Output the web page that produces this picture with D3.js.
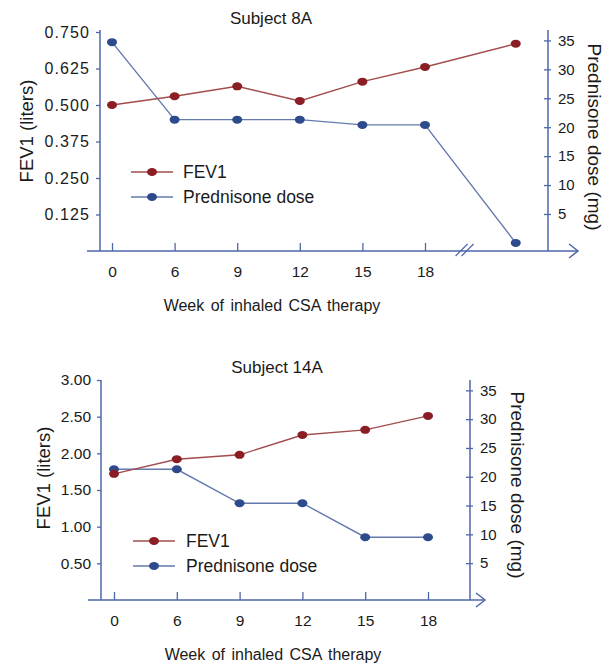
<!DOCTYPE html>
<html>
<head>
<meta charset="utf-8">
<script src="https://cdn.jsdelivr.net/npm/d3@7"></script>
<style>
  body { margin: 0; background: #fff; }
  svg { display: block; font-family: "Liberation Sans", Arial, sans-serif; }
</style>
</head>
<body>
<svg id="chart" width="610" height="663"></svg>
<script>
// data
const weekLabels = ["0", "6", "9", "12", "15", "18"];
const seriesNames = ["FEV1", "Prednisone dose"];

// subject 8A: last value is the point after the axis break
const fev1_8A = [0.500, 0.530, 0.564, 0.514, 0.580, 0.630, 0.710];
const dose_8A = [34.7, 21.3, 21.3, 21.3, 20.4, 20.4, 0];

// subject 14A
const fev1_14A = [1.72, 1.92, 1.98, 2.25, 2.32, 2.51];
const dose_14A = [21.3, 21.3, 15.4, 15.4, 9.5, 9.5];

const fevTicks_8A = [0.125, 0.250, 0.375, 0.500, 0.625, 0.750];
const fevTicks_14A = [0.50, 1.00, 1.50, 2.00, 2.50, 3.00];
const doseTicks = [5, 10, 15, 20, 25, 30, 35];

const axisColor = "#4f67a8";
const red = "#8b1e24", redLine = "#a24c4c";
const blue = "#2d4a8c", blueLine = "#6479ad";
const textColor = "#1a1a1a";

const svg = d3.select("#chart");

function panel(o) {
  const g = svg.append("g");

  const x = d3.scalePoint().domain(weekLabels).range(o.xRange);
  const xPos = i => i < weekLabels.length ? x(weekLabels[i]) : x("18") + x.step() * 1.45;
  const yL = d3.scaleLinear().domain(o.fevDomain).range([o.base, o.fevTop]);
  const yR = d3.scaleLinear().domain([-1.4, 36.8]).range([o.base, o.top]);

  // title
  g.append("text").attr("x", o.title[0]).attr("y", o.title[1])
    .attr("text-anchor", "middle").attr("font-size", 17).attr("fill", textColor)
    .text(o.name);

  // x axis line + arrow
  g.append("line").attr("x1", o.xStart).attr("x2", o.xEnd)
    .attr("y1", o.base).attr("y2", o.base)
    .attr("stroke", axisColor).attr("stroke-width", 1.5);
  g.append("path")
    .attr("d", `M${o.xEnd - 9},${o.base - 7}L${o.xEnd},${o.base}L${o.xEnd - 9},${o.base + 7}`)
    .attr("fill", "none").attr("stroke", axisColor).attr("stroke-width", 1.5);

  const xa = g.append("g").attr("transform", `translate(0,${o.base})`)
    .call(d3.axisBottom(x).tickSize(-8).tickPadding(15));
  xa.select(".domain").remove();
  xa.selectAll("line").attr("stroke", axisColor).attr("stroke-width", 1.3);
  xa.selectAll("text").attr("font-size", 15.5).attr("fill", textColor)
    .attr("font-family", "Liberation Sans, Arial, sans-serif");

  // left axis
  g.append("line").attr("x1", o.left).attr("x2", o.left)
    .attr("y1", o.top).attr("y2", o.base)
    .attr("stroke", axisColor).attr("stroke-width", 1.5);
  const la = g.append("g").attr("transform", `translate(${o.left},0)`)
    .call(d3.axisLeft(yL).tickValues(o.fevTicks).tickFormat(d3.format(o.fmt))
      .tickSize(4).tickPadding(6));
  la.select(".domain").remove();
  la.selectAll("line").attr("stroke", axisColor).attr("stroke-width", 1.3);
  la.selectAll("text").attr("font-size", o.tickFont).attr("fill", textColor)
    .attr("letter-spacing", o.spacing)
    .attr("font-family", "Liberation Sans, Arial, sans-serif");

  // right axis
  g.append("line").attr("x1", o.right).attr("x2", o.right)
    .attr("y1", o.top).attr("y2", o.base)
    .attr("stroke", axisColor).attr("stroke-width", 1.5);
  const ra = g.append("g").attr("transform", `translate(${o.right},0)`)
    .call(d3.axisRight(yR).tickValues(doseTicks).tickSize(3).tickPadding(7));
  ra.select(".domain").remove();
  ra.selectAll("line").attr("x1", -4).attr("stroke", axisColor).attr("stroke-width", 1.3);
  ra.selectAll("text").attr("font-size", 15).attr("fill", textColor)
    .attr("font-family", "Liberation Sans, Arial, sans-serif");

  // axis titles
  g.append("text")
    .attr("transform", `translate(${o.leftLabel[0]},${o.leftLabel[1]}) rotate(-90)`)
    .attr("text-anchor", "middle").attr("dominant-baseline", "central")
    .attr("font-size", 18.5).attr("fill", textColor).text("FEV1 (liters)");
  g.append("text")
    .attr("transform", `translate(${o.rightLabel[0]},${o.rightLabel[1]}) rotate(90)`)
    .attr("text-anchor", "middle").attr("dominant-baseline", "central")
    .attr("font-size", 19).attr("fill", textColor).text("Prednisone dose (mg)");
  g.append("text").attr("x", o.xLabel[0]).attr("y", o.xLabel[1])
    .attr("text-anchor", "middle").attr("font-size", 16).attr("fill", textColor)
    .attr("word-spacing", 2).text("Week of inhaled CSA therapy");

  // break mark
  if (o.hasBreak) {
    const bx = x("18") + x.step() * 0.6;
    [0, 6].forEach(dx => {
      g.append("line")
        .attr("x1", bx - 7 + dx).attr("y1", o.base + 5)
        .attr("x2", bx + 5 + dx).attr("y2", o.base - 7)
        .attr("stroke", axisColor).attr("stroke-width", 1.2);
    });
  }

  // series
  const series = [
    { vals: o.dose, y: yR, c: blue, lc: blueLine },
    { vals: o.fev, y: yL, c: red, lc: redLine }
  ];
  series.forEach(s => {
    const line = d3.line().x((d, i) => xPos(i)).y(d => s.y(d));
    g.append("path").datum(s.vals).attr("d", line)
      .attr("fill", "none").attr("stroke", s.lc).attr("stroke-width", 1.4);
    g.selectAll(null).data(s.vals).join("ellipse")
      .attr("cx", (d, i) => xPos(i)).attr("cy", d => s.y(d))
      .attr("rx", 5).attr("ry", 4).attr("fill", s.c);
  });

  // legend
  const leg = g.append("g");
  [[red, redLine], [blue, blueLine]].forEach((c, i) => {
    const ly = o.legend.y[i];
    leg.append("line").attr("x1", o.legend.x[0]).attr("x2", o.legend.x[1])
      .attr("y1", ly).attr("y2", ly).attr("stroke", c[1]).attr("stroke-width", 1.4);
    leg.append("ellipse").attr("cx", (o.legend.x[0] + o.legend.x[1]) / 2)
      .attr("cy", ly).attr("rx", 5).attr("ry", 4).attr("fill", c[0]);
    leg.append("text").attr("x", o.legend.tx).attr("y", ly)
      .attr("dominant-baseline", "central").attr("font-size", 17.5)
      .attr("fill", textColor).text(seriesNames[i]);
  });
}

panel({
  name: "Subject 8A", fev: fev1_8A, dose: dose_8A,
  fevDomain: [0, 0.75], fevTicks: fevTicks_8A, fmt: ".3f", spacing: 1.1, tickFont: 16,
  left: 100, right: 548, base: 251, top: 30, fevTop: 32,
  xStart: 87, xEnd: 578, xRange: [112, 425], hasBreak: true,
  title: [271, 24], xLabel: [272, 311],
  leftLabel: [26, 131], rightLabel: [594, 137],
  legend: { x: [131, 173], y: [172, 197], tx: 183 }
});

panel({
  name: "Subject 14A", fev: fev1_14A, dose: dose_14A,
  fevDomain: [0, 3], fevTicks: fevTicks_14A, fmt: ".2f", spacing: 0, tickFont: 15.5,
  left: 101, right: 470, base: 600, top: 380, fevTop: 380,
  xStart: 88, xEnd: 485, xRange: [114, 428], hasBreak: false,
  title: [277, 373], xLabel: [273, 660],
  leftLabel: [43, 478], rightLabel: [517, 485],
  legend: { x: [133, 175], y: [541, 566], tx: 186 }
});
</script>
</body>
</html>
